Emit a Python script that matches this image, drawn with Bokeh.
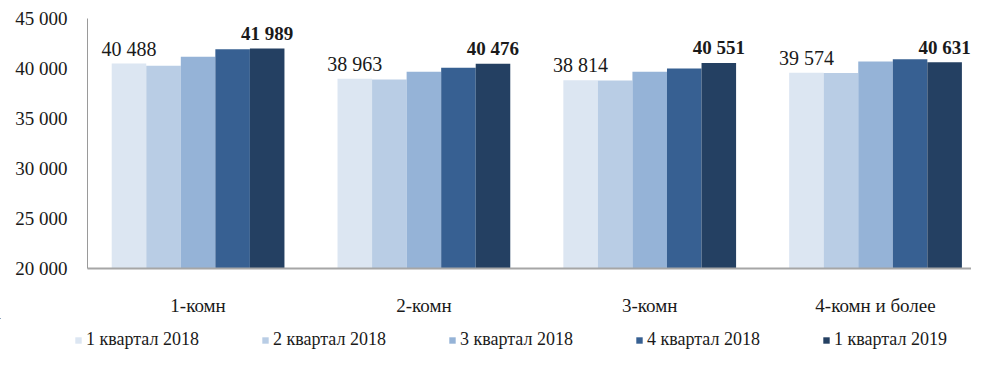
from bokeh.plotting import figure
from bokeh.models import FixedTicker, Legend, LegendItem, ColumnDataSource
from bokeh.layouts import column
from bokeh.transform import dodge
from bokeh.core.properties import value
from bokeh.embed import file_html
from bokeh.resources import INLINE

categories = ["1-комн", "2-комн", "3-комн", "4-комн и более"]
series_names = ["1 квартал 2018", "2 квартал 2018", "3 квартал 2018", "4 квартал 2018", "1 квартал 2019"]
q1_2018 = [40488, 38963, 38814, 39574]
q2_2018 = [40270, 38900, 38800, 39550]
q3_2018 = [41170, 39670, 39670, 40700]
q4_2018 = [41930, 40070, 40000, 40930]
q1_2019 = [41989, 40476, 40551, 40631]
colors = ["#DCE6F2", "#B9CDE5", "#95B3D7", "#376092", "#244062"]
y_ticks = [20000, 25000, 30000, 35000, 40000, 45000]
y_tick_labels = ["20 000", "25 000", "30 000", "35 000", "40 000", "45 000"]

def fmt(v):
    return f"{v:,}".replace(",", " ")

xs = [i + 0.5 for i in range(len(categories))]
src = ColumnDataSource(dict(
    x=xs, q1=q1_2018, q2=q2_2018, q3=q3_2018, q4=q4_2018, q5=q1_2019,
    lab1=[fmt(v) for v in q1_2018], lab5=[fmt(v) for v in q1_2019],
))

FONT = "Liberation Serif"
TXT = "#1a1a1a"

p = figure(width=971, height=318, output_backend="svg", toolbar_location=None,
           x_range=(0.0103, 3.925), y_range=(20000, 45000),
           min_border_left=87, min_border_right=0, min_border_top=18, min_border_bottom=50)
p.frame_align = False
p.outline_line_color = None
p.xgrid.visible = False
p.ygrid.visible = False
p.background_fill_color = "white"
p.border_fill_color = "white"

bw = 0.153
cols = ["q1", "q2", "q3", "q4", "q5"]
for i, (c, col) in enumerate(zip(cols, colors)):
    p.vbar(x=dodge("x", (i - 2) * bw, range=p.x_range), top=c, bottom=20000, width=bw,
           source=src, fill_color=col, line_color=None)

p.text(x=dodge("x", -2 * bw, range=p.x_range), y="q1", text="lab1", source=src,
       text_font=value(FONT), text_font_size="20px", text_color=TXT,
       text_align="center", text_baseline="alphabetic", y_offset=-15)
p.text(x=dodge("x", 2 * bw, range=p.x_range), y="q5", text="lab5", source=src,
       text_font=value(FONT), text_font_size="19px", text_font_style="bold", text_color=TXT,
       text_align="center", text_baseline="alphabetic", y_offset=-15)

# axes
p.yaxis.ticker = FixedTicker(ticks=y_ticks)
p.yaxis.major_label_overrides = {t: l for t, l in zip(y_ticks, y_tick_labels)}
p.yaxis.major_tick_line_color = None
p.yaxis.major_tick_out = 0
p.yaxis.minor_tick_line_color = None
p.yaxis.axis_line_color = "#9a9a9a"
p.yaxis.axis_line_width = 1
p.yaxis.major_label_text_font = FONT
p.yaxis.major_label_text_font_size = "19px"
p.yaxis.major_label_text_color = TXT
p.yaxis.major_label_standoff = 20

p.xaxis.ticker = FixedTicker(ticks=xs)
p.xaxis.major_label_overrides = {x: c for x, c in zip(xs, categories)}
p.xaxis.major_tick_line_color = None
p.xaxis.major_tick_out = 0
p.xaxis.minor_tick_line_color = None
p.xaxis.axis_line_color = "#a6a6a6"
p.xaxis.axis_line_width = 2
p.xaxis.major_label_text_font = FONT
p.xaxis.major_label_text_font_size = "19px"
p.xaxis.major_label_text_color = TXT
p.xaxis.major_label_standoff = 26

# legend strip (its bars lie outside the strip's visible ranges; only the legend shows)
p2 = figure(width=971, height=31, output_backend="svg", toolbar_location=None,
            x_range=(100, 101), y_range=(0, 1), min_border=0,
            x_axis_location=None, y_axis_location=None)
p2.frame_align = False
p2.grid.visible = False
p2.outline_line_color = None
p2.background_fill_color = "white"
p2.border_fill_color = "white"
leg_renderers = [p2.vbar(x="x", top=c, bottom=20000, width=0.1, source=src,
                         fill_color=col, line_color=None)
                 for c, col in zip(cols, colors)]
legend = Legend(items=[LegendItem(label=n, renderers=[r]) for n, r in zip(series_names, leg_renderers)],
                orientation="horizontal", location=(74, -1),
                glyph_width=8, glyph_height=8, label_standoff=4, spacing=62,
                padding=0, margin=0, border_line_color=None, background_fill_alpha=0,
                label_text_font=FONT, label_text_font_size="18px", label_text_color=TXT)
p2.add_layout(legend, "center")

layout = column(p, p2, spacing=0)
open("out.html", "w").write(file_html(layout, INLINE))
